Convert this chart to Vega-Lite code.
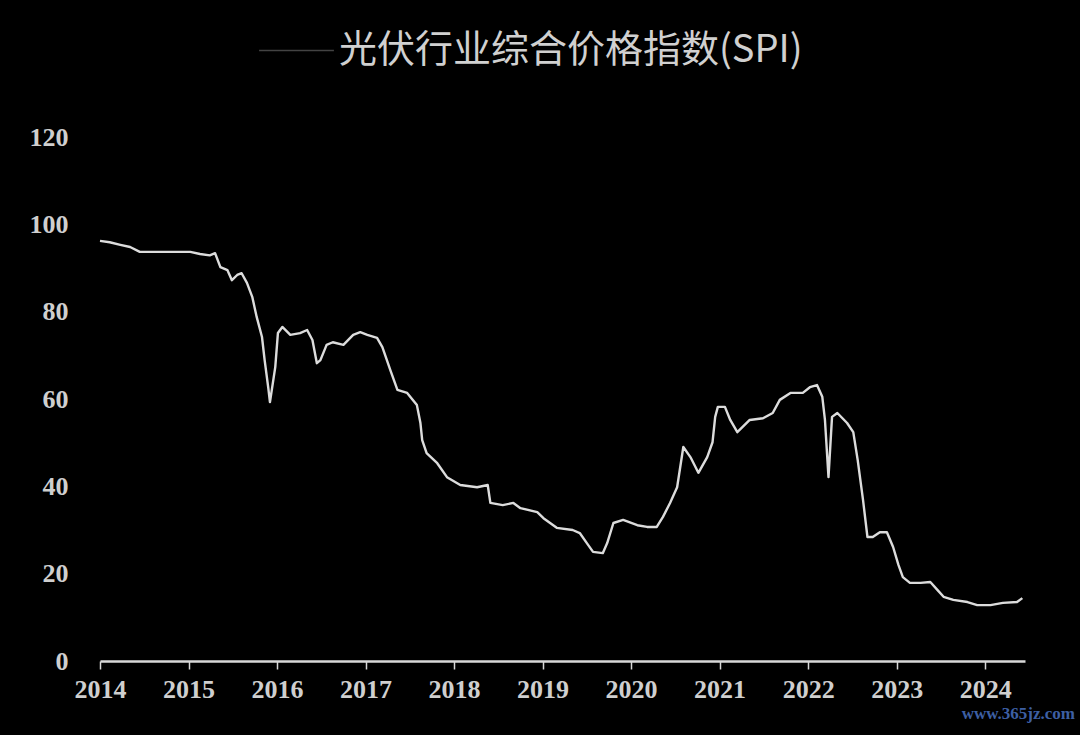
{
  "$schema": "https://vega.github.io/schema/vega-lite/v6.json",
  "background": "#000000",
  "width": 925,
  "height": 524,
  "autosize": {"type": "none"},
  "padding": {"left": 100, "top": 137, "right": 55, "bottom": 74},
  "title": {"text": "www.365jz.com", "orient": "bottom", "anchor": "end", "color": "#3d5fa3", "fontSize": 17, "font": "Liberation Sans Narrow", "fontWeight": "bold", "dx": 50, "offset": 4},
  "config": {"view": {"stroke": null}},
  "data": {"values": [
    {"year": 2014.00, "spi": 96.2}, {"year": 2014.11, "spi": 95.9}, {"year": 2014.23, "spi": 95.3},
    {"year": 2014.34, "spi": 94.8}, {"year": 2014.45, "spi": 93.7}, {"year": 2015.02, "spi": 93.7},
    {"year": 2015.13, "spi": 93.2}, {"year": 2015.24, "spi": 92.9}, {"year": 2015.30, "spi": 93.4},
    {"year": 2015.36, "spi": 90.2}, {"year": 2015.44, "spi": 89.5}, {"year": 2015.49, "spi": 87.2},
    {"year": 2015.55, "spi": 88.4}, {"year": 2015.60, "spi": 88.8}, {"year": 2015.66, "spi": 86.6},
    {"year": 2015.72, "spi": 83.4}, {"year": 2015.77, "spi": 78.8}, {"year": 2015.83, "spi": 74.2},
    {"year": 2015.86, "spi": 68.9}, {"year": 2015.90, "spi": 62.7}, {"year": 2015.92, "spi": 59.3},
    {"year": 2015.98, "spi": 67.3}, {"year": 2016.01, "spi": 75.1}, {"year": 2016.06, "spi": 76.5},
    {"year": 2016.15, "spi": 74.7}, {"year": 2016.26, "spi": 75.1}, {"year": 2016.34, "spi": 75.8},
    {"year": 2016.40, "spi": 73.5}, {"year": 2016.45, "spi": 68.2}, {"year": 2016.49, "spi": 68.9},
    {"year": 2016.56, "spi": 72.4}, {"year": 2016.63, "spi": 73.0}, {"year": 2016.75, "spi": 72.4},
    {"year": 2016.86, "spi": 74.7}, {"year": 2016.94, "spi": 75.3}, {"year": 2017.02, "spi": 74.7},
    {"year": 2017.13, "spi": 74.0}, {"year": 2017.19, "spi": 71.9}, {"year": 2017.28, "spi": 66.6},
    {"year": 2017.36, "spi": 62.1}, {"year": 2017.47, "spi": 61.4}, {"year": 2017.58, "spi": 58.6},
    {"year": 2017.62, "spi": 54.5}, {"year": 2017.64, "spi": 50.6}, {"year": 2017.69, "spi": 47.6},
    {"year": 2017.81, "spi": 45.3}, {"year": 2017.92, "spi": 42.1}, {"year": 2018.07, "spi": 40.3},
    {"year": 2018.26, "spi": 39.8}, {"year": 2018.38, "spi": 40.3}, {"year": 2018.41, "spi": 36.2},
    {"year": 2018.55, "spi": 35.7}, {"year": 2018.67, "spi": 36.2}, {"year": 2018.75, "spi": 35.0},
    {"year": 2018.94, "spi": 34.1}, {"year": 2019.01, "spi": 32.7}, {"year": 2019.16, "spi": 30.5},
    {"year": 2019.34, "spi": 30.0}, {"year": 2019.42, "spi": 29.3}, {"year": 2019.50, "spi": 27.0},
    {"year": 2019.57, "spi": 25.0}, {"year": 2019.68, "spi": 24.7}, {"year": 2019.73, "spi": 27.0},
    {"year": 2019.80, "spi": 31.6}, {"year": 2019.91, "spi": 32.3}, {"year": 2020.07, "spi": 31.1},
    {"year": 2020.18, "spi": 30.7}, {"year": 2020.29, "spi": 30.7}, {"year": 2020.36, "spi": 33.0},
    {"year": 2020.44, "spi": 36.2}, {"year": 2020.52, "spi": 39.8}, {"year": 2020.59, "spi": 49.0},
    {"year": 2020.67, "spi": 46.7}, {"year": 2020.76, "spi": 43.1}, {"year": 2020.86, "spi": 46.7},
    {"year": 2020.92, "spi": 50.1}, {"year": 2020.95, "spi": 55.9}, {"year": 2020.98, "spi": 58.2},
    {"year": 2021.06, "spi": 58.2}, {"year": 2021.12, "spi": 55.2}, {"year": 2021.20, "spi": 52.4},
    {"year": 2021.34, "spi": 55.2}, {"year": 2021.49, "spi": 55.6}, {"year": 2021.60, "spi": 56.8},
    {"year": 2021.68, "spi": 59.8}, {"year": 2021.80, "spi": 61.4}, {"year": 2021.94, "spi": 61.4},
    {"year": 2022.02, "spi": 62.7}, {"year": 2022.10, "spi": 63.2}, {"year": 2022.16, "spi": 60.5},
    {"year": 2022.19, "spi": 55.2}, {"year": 2022.23, "spi": 42.1}, {"year": 2022.27, "spi": 55.9},
    {"year": 2022.33, "spi": 56.8}, {"year": 2022.44, "spi": 54.5}, {"year": 2022.51, "spi": 52.4},
    {"year": 2022.56, "spi": 46.0}, {"year": 2022.62, "spi": 36.9}, {"year": 2022.67, "spi": 28.4},
    {"year": 2022.73, "spi": 28.4}, {"year": 2022.81, "spi": 29.5}, {"year": 2022.89, "spi": 29.5},
    {"year": 2022.96, "spi": 26.1}, {"year": 2023.02, "spi": 22.0}, {"year": 2023.07, "spi": 19.2},
    {"year": 2023.15, "spi": 17.9}, {"year": 2023.27, "spi": 17.9}, {"year": 2023.38, "spi": 18.1},
    {"year": 2023.46, "spi": 16.3}, {"year": 2023.53, "spi": 14.7}, {"year": 2023.64, "spi": 14.0},
    {"year": 2023.80, "spi": 13.5}, {"year": 2023.91, "spi": 12.8}, {"year": 2024.06, "spi": 12.8},
    {"year": 2024.20, "spi": 13.3}, {"year": 2024.36, "spi": 13.5}, {"year": 2024.42, "spi": 14.4}
  ]},
  "mark": {"type": "line", "strokeWidth": 2.4, "strokeJoin": "round"},
  "encoding": {
    "x": {
      "field": "year", "type": "quantitative",
      "scale": {"domain": [2014, 2024.45], "nice": false, "zero": false},
      "axis": {
        "title": null, "grid": false,
        "values": [2014, 2015, 2016, 2017, 2018, 2019, 2020, 2021, 2022, 2023, 2024],
        "format": "d",
        "domainColor": "#d8d8d8", "domainWidth": 2.5,
        "tickColor": "#d8d8d8", "tickWidth": 1.5, "tickSize": 8,
        "labelFont": "Liberation Serif", "labelFontWeight": "bold", "labelFontSize": 26,
        "labelColor": "#cfcfcf", "labelPadding": 7, "labelFlush": false
      }
    },
    "y": {
      "field": "spi", "type": "quantitative",
      "scale": {"domain": [0, 120], "nice": false},
      "axis": {
        "title": null, "grid": false, "domain": false, "ticks": false,
        "values": [0, 20, 40, 60, 80, 100, 120],
        "labelFont": "Liberation Serif", "labelFontWeight": "bold", "labelFontSize": 26,
        "labelColor": "#cfcfcf", "labelPadding": 32
      }
    },
    "color": {
      "datum": "光伏行业综合价格指数(SPI)",
      "scale": {"range": ["#dcdcdc"]},
      "legend": {
        "title": null, "orient": "none", "legendX": 158, "legendY": -125,
        "symbolType": "stroke", "symbolSize": 5600, "symbolStrokeWidth": 1.5, "symbolOpacity": 0.3,
        "labelFont": "Noto Sans CJK SC", "labelFontSize": 38, "labelColor": "#d0d0d0",
        "labelLimit": 600, "labelOffset": 4
      }
    }
  }
}
